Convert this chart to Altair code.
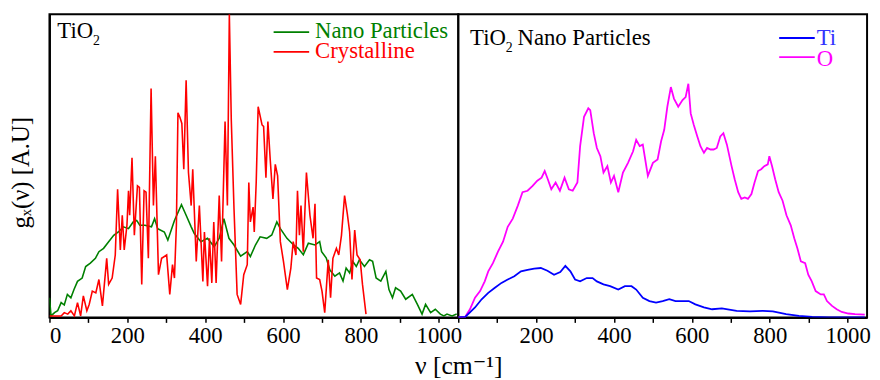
import altair as alt
import pandas as pd

FONT = "Liberation Serif, DejaVu Serif, serif"

# ---------------- data ----------------
nano_nu = [0, 4, 13, 21, 30, 38, 46, 55, 63, 72, 84, 93, 105, 118, 127, 139, 152, 165, 177, 190,
           203, 215, 224, 232, 245, 262, 270, 278, 295, 304, 321, 339, 351, 364, 372, 389, 406, 423,
           436, 448, 461, 474, 491, 508, 516, 529, 541, 558, 571, 584, 593, 610, 627, 639, 652, 665,
           682, 694, 699, 711, 720, 733, 745, 754, 762, 771, 779, 788, 796, 809, 822, 830, 839, 851,
           864, 872, 881, 889, 902, 915, 932, 945, 957, 966, 979, 991, 1004, 1013, 1021, 1034, 1046]
nano_g = [6.5, 0.5, 1.6, 2.2, 4.9, 4.1, 7.6, 6.5, 9.2, 11.9, 13.0, 16.8, 17.9, 19.5, 21.7, 22.8, 25.0,
          27.1, 28.2, 29.9, 29.3, 31.5, 32.0, 30.4, 30.4, 29.9, 32.6, 29.3, 28.2, 25.5, 32.0, 37.2,
          33.7, 29.9, 27.7, 25.0, 26.1, 23.3, 26.1, 32.6, 26.1, 23.9, 20.2, 21.7, 20.1, 23.9, 26.6,
          26.1, 27.2, 31.5, 29.3, 26.1, 23.9, 22.8, 20.7, 24.5, 23.9, 25.0, 21.7, 19.6, 15.7, 13.6,
          14.7, 12.0, 16.3, 14.7, 18.5, 16.8, 19.0, 16.8, 19.0, 18.5, 13.0, 12.0, 15.2, 9.2, 6.5, 9.8,
          8.7, 6.0, 7.6, 4.3, 1.1, 4.3, 1.6, 2.7, 1.1, 0.5, 1.1, 0.5, 1.1]

cryst_nu = [0, 30, 38, 47, 55, 64, 72, 80, 87, 96, 102, 110, 119, 127, 136, 147, 152, 161, 169, 175,
            182, 187, 192, 199, 203, 206, 212, 218, 226, 231, 237, 243, 248, 254, 261, 267, 272, 280,
            288, 301, 309, 316, 321, 326, 330, 335, 340, 345, 351, 357, 364, 368, 377, 385, 394, 398,
            406, 411, 417, 422, 428, 436, 442, 451, 457, 462, 467, 474, 482, 491, 499, 508, 512, 516,
            523, 526, 531, 536, 546, 550, 556, 561, 567, 574, 580, 586, 593, 601, 611, 620, 626, 633,
            637, 642, 646, 652, 660, 669, 677, 682, 686, 694, 700, 707, 716, 722, 728, 737, 743, 750,
            758, 765, 771, 777, 784, 790, 798, 804, 813]
cryst_g = [0.5, 0.5, 1.6, 1.1, 2.2, 0.5, 4.9, 0.5, 7.1, 2.2, 4.3, 8.7, 8.1, 12.5, 3.8, 19.5, 10.9,
           13.0, 20.6, 42.3, 22.3, 33.7, 22.3, 30.4, 41.8, 33.7, 52.7, 27.1, 43.4, 42.9, 10.9, 41.8,
           41.3, 19.5, 75.5, 36.9, 53.2, 14.1, 19.5, 20.6, 7.6, 17.4, 13.0, 30.4, 67.5, 66.0, 64.0,
           48.9, 78.2, 47.8, 36.9, 48.9, 18.5, 36.9, 11.9, 28.2, 10.3, 26.1, 11.4, 31.5, 11.4, 40.2,
           18.5, 64.6, 36.9, 100.0, 65.1, 35.8, 7.6, 4.3, 14.1, 17.4, 44.5, 31.5, 36.4, 28.2, 44.5,
           69.5, 63.5, 63.0, 46.1, 64.6, 52.1, 39.1, 50.5, 46.7, 25.0, 18.5, 9.2, 16.3, 25.0, 20.6,
           41.8, 27.1, 36.9, 21.7, 47.8, 33.7, 26.1, 37.5, 13.0, 12.5, 8.7, 1.6, 19.0, 6.5, 19.5,
           22.8, 20.6, 27.1, 40.2, 34.2, 28.2, 12.5, 28.8, 20.6, 19.0, 10.9, 1.1]

ti_nu = [0, 18, 43, 60, 77, 94, 111, 127, 144, 161, 178, 195, 212, 229, 246, 262, 275, 288, 300, 313,
         330, 345, 356, 373, 390, 411, 428, 445, 457, 474, 491, 508, 525, 542, 558, 575, 592, 609, 631,
         652, 677, 715, 749, 782, 808, 842, 875, 909, 951, 1002, 1044]
ti_g = [0.0, 0.2, 3.3, 6.0, 8.1, 9.8, 11.4, 12.5, 13.6, 15.2, 15.7, 16.1, 16.3, 15.4, 14.1, 15.0, 17.0,
        15.2, 12.5, 11.9, 13.0, 13.0, 11.9, 10.9, 10.3, 9.2, 10.3, 10.3, 9.2, 6.5, 5.4, 4.9, 5.4, 6.0,
        5.4, 5.4, 5.4, 4.3, 3.3, 2.7, 3.0, 2.2, 2.0, 2.2, 2.0, 1.1, 0.5, 0.2, 0.0, 0.0, 0.0]

o_nu = [0, 18, 30, 43, 56, 68, 77, 89, 102, 115, 127, 140, 153, 165, 178, 191, 203, 214, 222, 230, 239,
        250, 261, 273, 284, 294, 306, 313, 323, 334, 339, 348, 356, 365, 373, 383, 392, 400, 411, 423,
        436, 449, 457, 466, 474, 487, 500, 512, 521, 529, 537, 546, 554, 565, 576, 584, 591, 597, 605,
        614, 622, 631, 639, 648, 656, 664, 673, 681, 690, 702, 710, 719, 727, 736, 744, 753, 761, 770,
        778, 786, 795, 799, 806, 814, 823, 833, 843, 854, 863, 871, 880, 891, 899, 908, 918, 931, 939,
        947, 960, 972, 985, 1002, 1019, 1044]
o_g = [0.0, 0.2, 2.7, 6.5, 8.7, 11.9, 15.2, 17.9, 21.7, 25.0, 29.9, 32.6, 36.9, 41.3, 41.8, 43.4, 45.1,
       46.1, 48.3, 45.6, 42.3, 44.5, 41.8, 46.1, 42.3, 41.8, 44.5, 56.5, 66.2, 69.0, 68.4, 60.8, 55.9,
       53.2, 47.8, 49.9, 44.5, 46.7, 41.3, 47.8, 51.0, 54.8, 58.6, 56.5, 57.0, 46.7, 51.0, 52.1, 58.1,
       61.9, 69.5, 76.0, 72.2, 69.5, 71.7, 72.7, 77.1, 67.3, 63.5, 59.7, 56.5, 54.3, 55.9, 55.4, 55.4,
       55.9, 59.7, 60.8, 57.0, 49.9, 45.6, 41.3, 39.1, 39.6, 39.1, 40.7, 44.5, 48.3, 48.9, 49.9, 50.5,
       53.2, 49.9, 45.6, 41.3, 38.5, 33.7, 30.4, 26.1, 22.8, 18.5, 17.9, 14.1, 11.9, 8.7, 7.6, 7.6,
       5.4, 3.8, 2.7, 1.8, 1.3, 1.1, 0.9]

x_ticks = list(range(0, 1001, 100))

# ---------------- layout ----------------
W, H = 414, 307
XDOM = [0, 1050]
YDOM = [0, 100]
GREEN, RED, BLUE, MAGENTA = "#008000", "#ff0000", "#0000ff", "#ff00ff"
TS = 23  # annotation font size


def frame(nu, g):
    return pd.DataFrame({"nu": nu, "g": g})


xscale = alt.Scale(domain=XDOM, nice=False, zero=False)
yscale = alt.Scale(domain=YDOM, nice=False)

x_left = alt.X("nu:Q", scale=xscale, axis=alt.Axis(
    values=x_ticks, format="d",
    labelExpr="datum.value % 200 === 0 ? datum.label : ''",
    title="ν [cm⁻¹]", titleX=W, titleY=57, titleAlign="center",
    titleBaseline="alphabetic", titleFontSize=26))
y_left = alt.Y("g:Q", scale=yscale, axis=alt.Axis(
    labels=False, ticks=False, title="gₓ(ν) [A.U]", titleFontSize=25,
    titleX=-21, titleY=160, titleAngle=270, titleAlign="center",
    titleBaseline="alphabetic"))

x_right = alt.X("nu:Q", scale=xscale, axis=alt.Axis(
    values=x_ticks, format="d",
    labelExpr="datum.value % 200 === 0 && datum.value > 0 ? datum.label : ''",
    title=None))
y_right = alt.Y("g:Q", scale=yscale, axis=None)

one = alt.Data(values=[{}])


def txt(s, x, y, color="black", size=TS):
    return alt.Chart(one).mark_text(
        font=FONT, fontSize=size, align="left", baseline="alphabetic", color=color
    ).encode(x=alt.value(x), y=alt.value(y), text=alt.value(s))


def sample(x1, x2, y, color, width=1.8):
    return alt.Chart(one).mark_rule(color=color, strokeWidth=width).encode(
        x=alt.value(x1), x2=alt.value(x2), y=alt.value(y))


left = alt.layer(
    alt.Chart(frame(nano_nu, nano_g)).mark_line(color=GREEN, strokeWidth=1.6, clip=True)
    .encode(x=x_left, y=y_left),
    alt.Chart(frame(cryst_nu, cryst_g)).mark_line(color=RED, strokeWidth=1.6, clip=True)
    .encode(x=x_left, y=y_left),
    txt("TiO", 8, 24.5),
    txt("2", 44, 31, size=14),
    sample(227, 263, 18, GREEN),
    sample(227, 263, 38, RED),
    txt("Nano Particles", 269, 24, GREEN),
    txt("Crystalline", 269, 44, RED),
).properties(width=W, height=H)

right = alt.layer(
    alt.Chart(frame(o_nu, o_g)).mark_line(color=MAGENTA, strokeWidth=1.8, clip=True)
    .encode(x=x_right, y=y_right),
    alt.Chart(frame(ti_nu, ti_g)).mark_line(color=BLUE, strokeWidth=1.8, clip=True)
    .encode(x=x_right, y=y_right),
    txt("TiO", 12, 31.5),
    txt("2", 48, 38, size=14),
    txt("Nano Particles", 60, 31.5),
    sample(325, 361, 24, BLUE),
    sample(325, 361, 43.3, MAGENTA),
    txt("Ti", 363, 31.3, "#3333ff"),
    txt("O", 363, 52.3, MAGENTA),
).properties(width=W, height=H)

chart = alt.hconcat(left, right, spacing=0, bounds="flush").properties(
    padding={"left": 0, "top": 3, "right": 0, "bottom": 0}
).configure_view(
    stroke="black", strokeWidth=2
).configure_axis(
    grid=False, domainColor="black", domainWidth=2, tickColor="black", tickWidth=1.5,
    tickSize=5, labelFont=FONT, labelFontSize=23, labelColor="black", labelPadding=2,
    titleFont=FONT, titleFontSize=24, titleFontWeight="normal", titleColor="black"
)

chart.save("out.html", embed_options={"renderer": "svg", "actions": False})
